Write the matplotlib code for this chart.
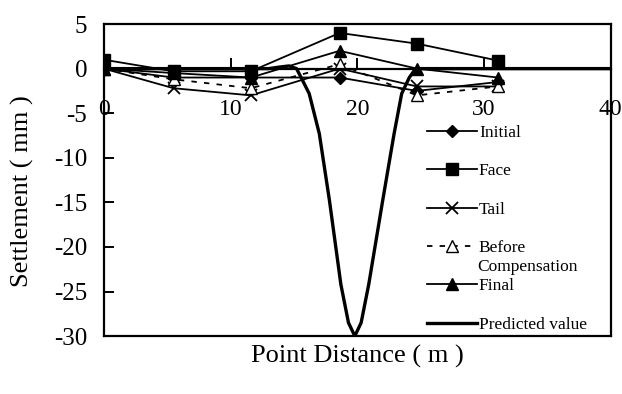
import matplotlib
matplotlib.use('Agg')
import matplotlib.pyplot as plt

plt.rcParams['font.family'] = ['Liberation Serif', 'DejaVu Serif']
plt.rcParams['axes.unicode_minus'] = False

# measuring points (m)
x_pts = [0, 5.5, 11.6, 18.6, 24.7, 31.1]
initial = [0, -1.0, -1.0, -1.0, -2.5, -1.5]
face = [1.0, -0.3, -0.3, 4.0, 2.8, 0.9]
tail = [0, -2.2, -3.0, 0, -2.0, -2.0]
before = [0, -1.2, -2.2, 0.5, -3.0, -2.0]
final = [0, -0.5, -1.0, 2.0, 0, -1.0]

# predicted settlement trough
x_pred = [0, 13, 14, 14.6, 15.2, 15.6, 16.2, 17.0, 17.8, 18.7, 19.3, 19.8,
          20.3, 20.9, 22.0, 22.9, 23.5, 24.1, 24.6, 40]
y_pred = [0, 0, 0.2, 0.3, 0, -1.1, -2.8, -7.3, -14.8, -24.2, -28.5, -30,
          -28.5, -24.2, -14.8, -7.3, -2.8, -1.0, 0, 0]

fig = plt.figure(figsize=(6.22, 3.94), dpi=100)
ax = fig.add_axes([0.167, 0.147, 0.815, 0.792])

lw = 1.3
ms = 8
ax.plot(x_pts, initial, 'k-', lw=lw, marker='D', ms=6.5, label='Initial')
ax.plot(x_pts, face, 'k-', lw=lw, marker='s', ms=ms, label='Face')
ax.plot(x_pts, tail, 'k-', lw=lw, marker='x', ms=ms, mew=1.3, label='Tail')
ax.plot(x_pts, before, 'k', ls=(0, (3, 4)), lw=lw, marker='^', ms=ms,
        mfc='white', mew=1.0, label='Before')
ax.plot(x_pts, final, 'k-', lw=lw, marker='^', ms=ms, label='Final')
ax.plot(x_pred, y_pred, 'k-', lw=2.4, label='Predicted value')

ax.set_xlim(0, 40)
ax.set_ylim(-30, 5)
ax.set_xticks([0, 10, 20, 30, 40])
ax.set_yticks([5, 0, -5, -10, -15, -20, -25, -30])

# x axis runs along zero settlement
ax.spines['bottom'].set_position(('data', 0))
ax.axhline(-30, color='k', lw=1.6, clip_on=False)
for s in ax.spines.values():
    s.set_linewidth(1.6)

ax.tick_params(axis='x', direction='in', length=8, width=1.4, pad=22,
               labelsize=17)
ax.tick_params(axis='y', direction='in', length=7, width=1.4, pad=12,
               labelsize=18)

ax.set_xlabel('Point Distance ( m )', fontsize=19, va='center')
ax.xaxis.set_label_coords(0.5, -0.065)
ax.set_ylabel('Settlement ( mm )', fontsize=19, va='center')
ax.yaxis.set_label_coords(-0.161, 0.465)

leg = ax.legend(loc='upper left', bbox_to_anchor=(0.62, 0.705), frameon=False,
                fontsize=12.5, handlelength=2.9, handletextpad=0.1,
                labelspacing=1.28, borderpad=0, numpoints=1)
ax.text(0.736, 0.222, 'Compensation', transform=ax.transAxes, fontsize=12.5,
        va='center', ha='left')

fig.savefig('out.png', dpi=100)
